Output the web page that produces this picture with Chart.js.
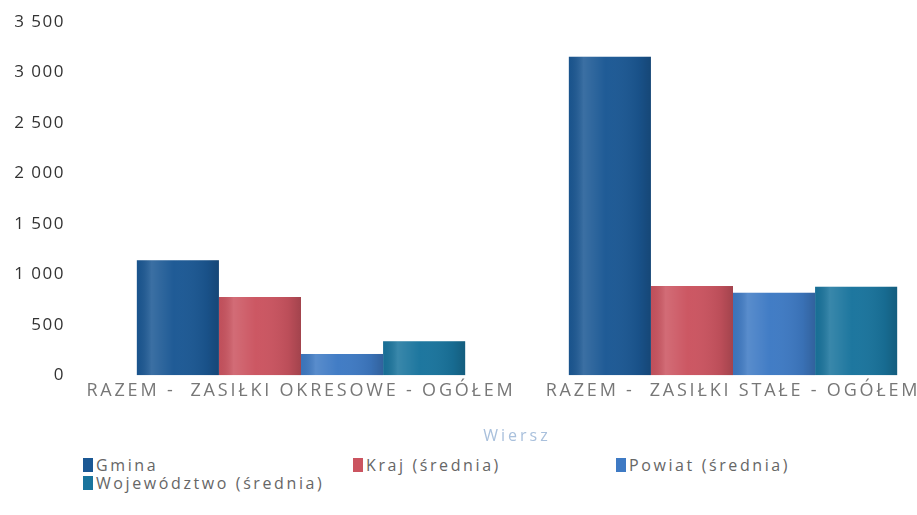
<!DOCTYPE html>
<html>
<head>
<meta charset="utf-8">
<script src="https://cdn.jsdelivr.net/npm/chart.js@4/dist/chart.umd.min.js"></script>
<style>
    html, body { margin: 0; padding: 0; background: #fff; overflow: hidden; }
    #wrap { position: relative; width: 960px; height: 450px; }
    #legend {
        position: absolute; left: 83px; top: 456px; width: 820px;
        display: grid; grid-template-columns: 270px 263px 267px;
        font-family: "Open Sans", sans-serif; font-size: 16px; color: #666;
        letter-spacing: 2.6px; line-height: 18px;
    }
    #legend div { display: flex; align-items: center; white-space: nowrap; }
    #legend span.sw { display: inline-block; width: 10px; height: 14px; margin-right: 3px; }
</style>
</head>
<body>
<div id="wrap"><canvas id="myChart" width="960" height="450"></canvas></div>
<div id="legend"></div>
<script>
const categories = ['RAZEM -  ZASIŁKI OKRESOWE - OGÓŁEM', 'RAZEM -  ZASIŁKI STAŁE - OGÓŁEM'];
const seriesNames = ['Gmina', 'Kraj (średnia)', 'Powiat (średnia)', 'Województwo (średnia)'];
const gmina = [1140, 3155];
const kraj = [775, 883];
const powiat = [211, 817];
const wojewodztwo = [337, 876];
const yTicks = [0, 500, 1000, 1500, 2000, 2500, 3000, 3500];

const colors = ['rgb(27,88,148)', 'rgb(203,84,96)', 'rgb(62,122,196)', 'rgb(25,116,157)'];
const values = [gmina, kraj, powiat, wojewodztwo];

const fmt = v => String(v).replace(/\B(?=(\d{3})+(?!\d))/g, ' ');

// the reference text is drawn wide, so spread the letters on the canvas
const spacing = { x: '2.8px', y: '1.5px', title: '3px' };
const spacingPlugin = {
    id: 'spacing',
    afterUpdate(chart) {
        Object.values(chart.scales).forEach(s => {
            if (s._spaced) return;
            s._spaced = true;
            const labels = s.drawLabels.bind(s);
            const title = s.drawTitle.bind(s);
            s.drawLabels = function (area) {
                const prev = this.ctx.letterSpacing;
                this.ctx.letterSpacing = spacing[this.id];
                labels(area);
                this.ctx.letterSpacing = prev;
            };
            s.drawTitle = function (area) {
                const prev = this.ctx.letterSpacing;
                this.ctx.letterSpacing = spacing.title;
                title(area);
                this.ctx.letterSpacing = prev;
            };
        });
    }
};

// soft left-to-right shading on each bar, like the glossy bars of the original
const shadePlugin = {
    id: 'shade',
    afterDatasetsDraw(chart) {
        const c = chart.ctx;
        chart.data.datasets.forEach((ds, i) => {
            chart.getDatasetMeta(i).data.forEach(bar => {
                const {x, y, base, width} = bar.getProps(['x', 'y', 'base', 'width'], true);
                const left = x - width / 2;
                const g = c.createLinearGradient(left, 0, left + width, 0);
                g.addColorStop(0, 'rgba(0,0,0,0.05)');
                g.addColorStop(0.18, 'rgba(255,255,255,0.14)');
                g.addColorStop(0.45, 'rgba(255,255,255,0.02)');
                g.addColorStop(0.85, 'rgba(0,0,0,0.08)');
                g.addColorStop(1, 'rgba(0,0,0,0.2)');
                c.save();
                c.fillStyle = g;
                c.fillRect(left, y, width, base - y);
                c.restore();
            });
        });
    }
};

const ctx = document.getElementById('myChart');

const chart = new Chart(ctx, {
    type: 'bar',
    data: {
        labels: categories,
        datasets: seriesNames.map((name, i) => ({
            label: name,
            data: values[i],
            backgroundColor: colors[i],
            borderWidth: 0
        }))
    },
    plugins: [spacingPlugin, shadePlugin],
    options: {
        responsive: false,
        animation: false,
        layout: { padding: { top: 22, right: 11, left: 0, bottom: 4 } },
        plugins: {
            legend: { display: false },
            tooltip: { enabled: false }
        },
        datasets: {
            bar: { categoryPercentage: 0.76, barPercentage: 1.0 }
        },
        scales: {
            x: {
                grid: { display: false, drawTicks: false },
                border: { display: false },
                ticks: {
                    padding: 5,
                    color: '#777',
                    font: { family: 'Open Sans', size: 18 }
                },
                title: {
                    display: true,
                    text: 'Wiersz',
                    color: '#a9c0dc',
                    font: { family: 'Open Sans', size: 16 },
                    padding: { top: 20, bottom: 0 }
                }
            },
            y: {
                min: 0,
                max: 3500,
                afterBuildTicks: axis => { axis.ticks = yTicks.map(v => ({ value: v })); },
                afterFit: axis => {
                    axis.width = 85;
                    axis.paddingTop = 0;
                    axis.paddingBottom = 0;
                },
                grid: { display: false, drawTicks: false },
                border: { display: false },
                ticks: {
                    padding: 20,
                    color: '#333',
                    font: { family: 'Open Sans', size: 17 },
                    callback: v => fmt(v)
                }
            }
        }
    }
});

const legend = document.getElementById('legend');
seriesNames.forEach((name, i) => {
    const d = document.createElement('div');
    d.innerHTML = '<span class="sw" style="background:' + colors[i] + '"></span>' + name;
    legend.appendChild(d);
});
</script>
</body>
</html>
